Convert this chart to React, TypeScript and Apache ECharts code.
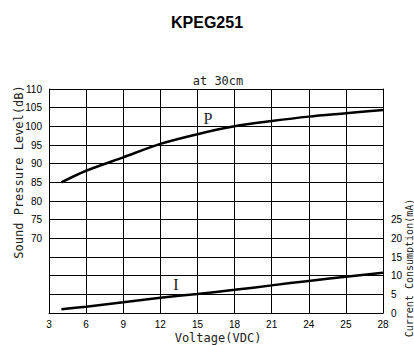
import React, { useEffect, useRef } from "react";
import * as echarts from "echarts";

// Grid positions on the drawing's voltage axis (3..30 grid, last two labelled 25 and 28 as in the original)
const voltage = [4, 6, 9, 12, 15, 18, 21, 24, 27, 30];
const soundPressure = [85, 88.1, 91.7, 95.3, 97.9, 100, 101.4, 102.6, 103.5, 104.4];
const currentMA = [1.0, 1.7, 2.9, 4.1, 5.1, 6.2, 7.4, 8.6, 9.7, 10.8];
const xTickLabels = ["3", "6", "9", "12", "15", "18", "21", "24", "25", "28"];
const leftTickMinLabel = 70;
const rightTickMaxLabel = 25;

const tickFont = '"Liberation Sans Narrow", "Arial Narrow", "Liberation Sans", sans-serif';
const monoFont = '"DejaVu Sans Mono", monospace';

export default function App() {
  const ref = useRef<HTMLDivElement>(null);
  useEffect(() => {
    if (!ref.current) return;
    const chart = echarts.init(ref.current, null, { renderer: "svg" });
    chart.setOption({
      animation: false,
      backgroundColor: "#ffffff",
      title: {
        text: "KPEG251",
        left: "center",
        top: 9,
        textStyle: { fontFamily: '"Liberation Sans", Arial, sans-serif', fontSize: 16, fontWeight: "bold", color: "#000" },
      },
      grid: { left: 49, right: 31, top: 89, bottom: 32, containLabel: false },
      xAxis: {
        type: "value",
        min: 3,
        max: 30,
        interval: 3,
        axisLine: { show: true, lineStyle: { color: "#000", width: 1 } },
        axisTick: { show: false },
        splitLine: { show: true, lineStyle: { color: "#000", width: 1 } },
        axisLabel: {
          margin: 6,
          fontFamily: tickFont,
          fontSize: 10,
          color: "#000",
          formatter: (v: number) => xTickLabels[Math.round((v - 3) / 3)] ?? "",
        },
      },
      yAxis: [
        {
          type: "value",
          min: 50,
          max: 110,
          interval: 5,
          axisLine: { show: true, lineStyle: { color: "#000", width: 1 } },
          axisTick: { show: false },
          splitLine: { show: true, lineStyle: { color: "#000", width: 1 } },
          axisLabel: {
            margin: 7,
            fontFamily: tickFont,
            fontSize: 10,
            color: "#000",
            formatter: (v: number) => (v >= leftTickMinLabel ? String(v) : ""),
          },
        },
        {
          type: "value",
          min: 0,
          max: 60,
          interval: 5,
          position: "right",
          axisLine: { show: true, lineStyle: { color: "#000", width: 1 } },
          axisTick: { show: false },
          splitLine: { show: false },
          axisLabel: {
            margin: 8,
            fontFamily: tickFont,
            fontSize: 10,
            color: "#000",
            formatter: (v: number) => (v <= rightTickMaxLabel ? String(v) : ""),
          },
        },
      ],
      series: [
        {
          name: "P",
          type: "line",
          yAxisIndex: 0,
          smooth: 0.3,
          showSymbol: false,
          lineStyle: { color: "#000", width: 2.5 },
          data: voltage.map((v, i) => [v, soundPressure[i]]),
        },
        {
          name: "I",
          type: "line",
          yAxisIndex: 1,
          smooth: 0.3,
          showSymbol: false,
          lineStyle: { color: "#000", width: 2.5 },
          data: voltage.map((v, i) => [v, currentMA[i]]),
        },
      ],
      graphic: [
        {
          type: "text",
          x: 218,
          y: 81,
          style: { text: "at 30cm", font: `12px ${monoFont}`, fill: "#222", align: "center", verticalAlign: "middle" },
        },
        {
          type: "text",
          x: 218,
          y: 338,
          style: { text: "Voltage(VDC)", font: `12px ${monoFont}`, fill: "#222", align: "center", verticalAlign: "middle" },
        },
        {
          type: "text",
          x: 19,
          y: 172,
          rotation: Math.PI / 2,
          style: { text: "Sound Pressure Level(dB)", font: `12px ${monoFont}`, fill: "#222", align: "center", verticalAlign: "middle" },
        },
        {
          type: "text",
          x: 409,
          y: 268,
          rotation: Math.PI / 2,
          style: { text: "Current Consumption(mA)", font: `10px ${monoFont}`, fill: "#222", align: "center", verticalAlign: "middle" },
        },
        {
          type: "text",
          x: 208,
          y: 118,
          style: { text: "P", font: '16px "Liberation Serif", "Times New Roman", serif', fill: "#222", align: "center", verticalAlign: "middle" },
        },
        {
          type: "text",
          x: 176,
          y: 284,
          style: { text: "I", font: '16px "Liberation Serif", "Times New Roman", serif', fill: "#222", align: "center", verticalAlign: "middle" },
        },
      ],
    });
    return () => chart.dispose();
  }, []);
  return <div ref={ref} style={{ position: "absolute", left: 0, top: 0, width: 414, height: 345 }} />;
}
